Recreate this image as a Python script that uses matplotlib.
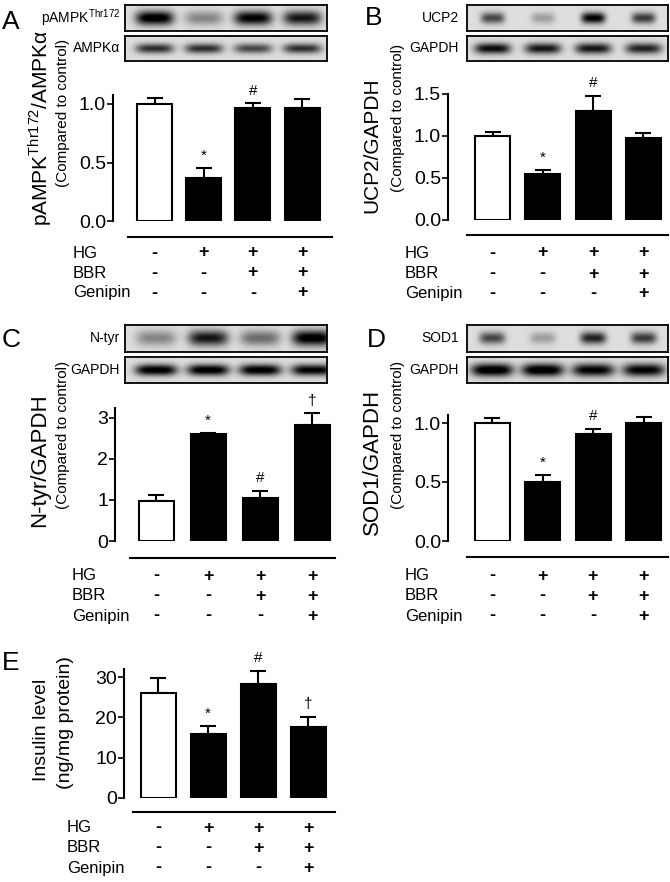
import numpy as np
import matplotlib
matplotlib.use("Agg")
import matplotlib.pyplot as plt
from matplotlib.lines import Line2D
from matplotlib.transforms import blended_transform_factory

plt.rcParams['font.family'] = ['Liberation Sans', 'DejaVu Sans']
plt.rcParams['mathtext.fontset'] = 'custom'
plt.rcParams['mathtext.rm'] = 'Liberation Sans'

# treatment table
row_names = ["HG", "BBR", "Genipin"]
hg = ["-", "+", "+", "+"]
bbr = ["-", "-", "+", "+"]
genipin = ["-", "-", "-", "+"]

# quantification (mean, SEM)
ampk_mean = [1.0, 0.37, 0.97, 0.97]
ampk_err = [0.05, 0.08, 0.035, 0.07]
ucp2_mean = [1.0, 0.55, 1.3, 0.98]
ucp2_err = [0.05, 0.04, 0.18, 0.06]
ntyr_mean = [0.98, 2.6, 1.05, 2.83]
ntyr_err = [0.13, 0.03, 0.17, 0.28]
sod1_mean = [1.0, 0.5, 0.91, 1.0]
sod1_err = [0.04, 0.06, 0.04, 0.05]
insulin_mean = [26.0, 15.9, 28.3, 17.6]
insulin_err = [3.8, 2.0, 3.2, 2.5]

ampk_sig = ["", "*", "#", ""]
ucp2_sig = ["", "*", "#", ""]
ntyr_sig = ["", "*", "#", "\u2020"]
sod1_sig = ["", "*", "#", ""]
insulin_sig = ["", "*", "#", "\u2020"]

# western blot band darkness per lane
pampk_band = [0.95, 0.35, 0.9, 0.8]
ampka_band = [0.7, 0.7, 0.6, 0.7]
ucp2_band = [0.6, 0.25, 0.9, 0.65]
gapdh_b_band = [0.85, 0.8, 0.8, 0.75]
ntyr_band = [0.35, 0.8, 0.45, 0.95]
gapdh_c_band = [0.95, 0.95, 0.95, 0.9]
sod1_band = [0.6, 0.25, 0.75, 0.65]
gapdh_d_band = [0.98, 0.98, 0.9, 0.9]

W, H = 670, 882
fig = plt.figure(figsize=(W / 100, H / 100), dpi=100)


def fx(x):
    return x / W


def fy(y):
    return 1 - y / H


def px_axes(l, t, r, b):
    return fig.add_axes([fx(l), fy(b), (r - l) / W, (b - t) / H])


def blot(x0, x1, t, b, centers, bands, bw=17, bh=0.28):
    ax = px_axes(x0, t, x1, b)
    xs = np.arange(x0, x1, 0.5)
    ys = np.linspace(0, 1, 60)
    X, Y = np.meshgrid(xs, ys)
    img = np.full(X.shape, 0.13)
    for c, d in zip(centers, bands):
        img += d * np.exp(-np.abs((X - c) / bw) ** 4) * np.exp(-((Y - 0.5) / bh) ** 2)
    ax.imshow(img, cmap="gray_r", vmin=0, vmax=1, aspect="auto",
              extent=(x0, x1, 1, 0), interpolation="bilinear")
    ax.set_xticks([])
    ax.set_yticks([])
    for s in ax.spines.values():
        s.set_linewidth(1.3)
    return ax


def bar_panel(left, right, top, bottom, c0, step, means, errs, sigs, ymax,
              yticks, yfmt, line_x, line_y, rows_y, label_x):
    ax = px_axes(left, top, right, bottom)
    x = np.arange(len(means))
    colors = ["white", "black", "black", "black"]
    ax.bar(x, means, width=35 / step, color=colors, edgecolor="black",
           linewidth=1.5, zorder=2)
    ax.errorbar(x, means, yerr=[[0] * len(means), errs], fmt="none",
                ecolor="black", elinewidth=1.5, capsize=6, capthick=1.5, zorder=1)
    for xi, m, e, s in zip(x, means, errs, sigs):
        if s:
            ax.annotate(s, (xi, m + e), xytext=(0, 4), textcoords="offset points",
                        ha="center", va="bottom", fontsize=11)
    ax.set_xlim((left - c0) / step, (right - c0) / step)
    ax.set_ylim(0, ymax)
    ax.set_yticks(yticks)
    ax.set_yticklabels([yfmt.format(v) for v in yticks])
    ax.tick_params(axis="y", direction="out", length=4, width=1.2, labelsize=14, pad=1)
    ax.set_xticks([])
    for s in ["top", "right", "bottom"]:
        ax.spines[s].set_visible(False)
    ax.spines["left"].set_linewidth(1.5)
    ax.patch.set_alpha(0)

    tr = blended_transform_factory(ax.transData, fig.transFigure)
    fig.add_artist(Line2D([fx(line_x[0]), fx(line_x[1])], [fy(line_y)] * 2,
                          color="black", lw=1.5, transform=fig.transFigure))
    for name, vals, ry in zip(row_names, [hg, bbr, genipin], rows_y):
        fig.text(fx(label_x), fy(ry), name, ha="left", va="center", fontsize=12)
        for xi, v in zip(x, vals):
            ax.text(xi, fy(ry), v, transform=tr, ha="center", va="center",
                    fontsize=13, fontweight="bold", clip_on=False)
    return ax


def centers(c0, step):
    return [c0 + i * step for i in range(4)]


# Panel A
bar_panel(113, 332, 221 - 1.08 * 117, 221, 154.5, 49.2, ampk_mean, ampk_err, ampk_sig,
          1.08, [0, 0.5, 1.0], "{:.1f}", (128, 332), 237, (253, 273, 293), 73)
blot(125, 327, 5, 31, centers(154.5, 49.2), pampk_band, bw=19)
blot(125, 327, 36, 61, centers(154.5, 49.2), ampka_band, bw=19, bh=0.2)
fig.text(fx(2), fy(22), "A", fontsize=19, ha="left", va="center")
fig.text(fx(120), fy(18), "pAMPK$^{\\rm Thr172}$", fontsize=10, ha="right", va="center")
fig.text(fx(120), fy(48), "AMPK\u03b1", fontsize=10, ha="right", va="center")
fig.text(fx(40), fy(128), "pAMPK$^{\\rm Thr172}$/AMPK\u03b1", rotation=90, fontsize=15,
         ha="center", va="center")
fig.text(fx(63), fy(113), "(Compared to control)", rotation=90, fontsize=11,
         ha="center", va="center")

# Panel B
bar_panel(448, 668, 220 - 1.5 * 84, 220, 492.5, 50.3, ucp2_mean, ucp2_err, ucp2_sig,
          1.5, [0, 0.5, 1.0, 1.5], "{:.1f}", (467, 668), 235, (253, 274, 294), 405)
blot(467, 668, 5, 31, centers(492.5, 50.3), ucp2_band, bw=12, bh=0.22)
blot(467, 668, 36, 61, centers(492.5, 50.3), gapdh_b_band, bw=18, bh=0.22)
fig.text(fx(365), fy(18), "B", fontsize=19, ha="left", va="center")
fig.text(fx(459), fy(18), "UCP2", fontsize=10, ha="right", va="center")
fig.text(fx(459), fy(48), "GAPDH", fontsize=10, ha="right", va="center")
fig.text(fx(372), fy(145), "UCP2/GAPDH", rotation=90, fontsize=15,
         ha="center", va="center")
fig.text(fx(398), fy(118), "(Compared to control)", rotation=90, fontsize=11,
         ha="center", va="center")

# Panel C
bar_panel(115, 335, 541 - 3.25 * 41, 541, 156, 52, ntyr_mean, ntyr_err, ntyr_sig,
          3.25, [0, 1, 2, 3], "{:d}", (130, 335), 558, (576, 596, 616), 72)
blot(125, 327, 325, 352, centers(156, 52), ntyr_band, bw=20)
blot(125, 327, 357, 383, centers(156, 52), gapdh_c_band, bw=21, bh=0.22)
fig.text(fx(2), fy(340), "C", fontsize=19, ha="left", va="center")
fig.text(fx(120), fy(338), "N-tyr", fontsize=10, ha="right", va="center")
fig.text(fx(120), fy(370), "GAPDH", fontsize=10, ha="right", va="center")
fig.text(fx(40), fy(460), "N-tyr/GAPDH", rotation=90, fontsize=16,
         ha="center", va="center")
fig.text(fx(63), fy(435), "(Compared to control)", rotation=90, fontsize=11,
         ha="center", va="center")

# Panel D
bar_panel(448, 668, 541 - 1.07 * 118, 541, 492, 50.5, sod1_mean, sod1_err, sod1_sig,
          1.07, [0, 0.5, 1.0], "{:.1f}", (467, 668), 557, (576, 596, 616), 405)
blot(467, 668, 325, 352, centers(492, 50.5), sod1_band, bw=13, bh=0.22)
blot(467, 668, 357, 383, centers(492, 50.5), gapdh_d_band, bw=21, bh=0.25)
fig.text(fx(367), fy(340), "D", fontsize=19, ha="left", va="center")
fig.text(fx(459), fy(338), "SOD1", fontsize=10, ha="right", va="center")
fig.text(fx(459), fy(370), "GAPDH", fontsize=10, ha="right", va="center")
fig.text(fx(372), fy(462), "SOD1/GAPDH", rotation=90, fontsize=16,
         ha="center", va="center")
fig.text(fx(398), fy(435), "(Compared to control)", rotation=90, fontsize=11,
         ha="center", va="center")

# Panel E
bar_panel(124, 335, 798 - 32 * 4.03, 798, 158, 50, insulin_mean, insulin_err, insulin_sig,
          32, [0, 10, 20, 30], "{:d}", (133, 335), 812, (828, 848, 868), 67)
fig.text(fx(2), fy(663), "E", fontsize=19, ha="left", va="center")
fig.text(fx(41), fy(730), "Insulin level", rotation=90, fontsize=14,
         ha="center", va="center")
fig.text(fx(65), fy(723), "(ng/mg protein)", rotation=90, fontsize=14,
         ha="center", va="center")

fig.savefig("out.png", dpi=100)
